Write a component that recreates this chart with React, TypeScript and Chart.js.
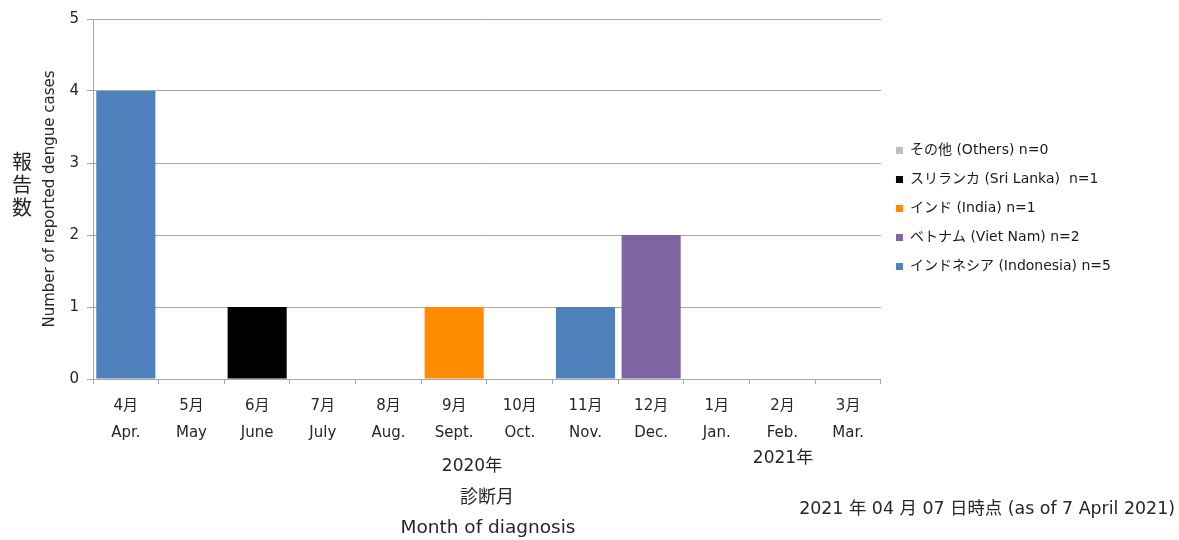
import React, { useEffect, useRef } from 'react';
import { Chart, registerables } from 'chart.js';

Chart.register(...registerables);

const monthsJa = ['4月', '5月', '6月', '7月', '8月', '9月', '10月', '11月', '12月', '1月', '2月', '3月'];
const monthsEn = ['Apr.', 'May', 'June', 'July', 'Aug.', 'Sept.', 'Oct.', 'Nov.', 'Dec.', 'Jan.', 'Feb.', 'Mar.'];

const indonesia = [4, 0, 0, 0, 0, 0, 0, 1, 0, 0, 0, 0];
const vietNam = [0, 0, 0, 0, 0, 0, 0, 0, 2, 0, 0, 0];
const india = [0, 0, 0, 0, 0, 1, 0, 0, 0, 0, 0, 0];
const sriLanka = [0, 0, 1, 0, 0, 0, 0, 0, 0, 0, 0, 0];
const others = [0, 0, 0, 0, 0, 0, 0, 0, 0, 0, 0, 0];

const seriesLabels = [
  'インドネシア (Indonesia) n=5',
  'ベトナム (Viet Nam) n=2',
  'インド (India) n=1',
  'スリランカ (Sri Lanka)  n=1',
  'その他 (Others) n=0',
];
const seriesColors = ['#4f81bd', '#8064a2', '#ff8c00', '#000000', '#bfbfbf'];

const yMin = 0;
const yMax = 5;
const yStep = 1;

const yTitle = 'Number of reported dengue cases';
const yTitleJa = ['報', '告', '数'];
const year2020 = '2020年';
const year2021 = '2021年';
const xTitleJa = '診断月';
const xTitleEn = 'Month of diagnosis';
const asOfNote = '2021 年 04 月 07 日時点 (as of 7 April 2021)';

const FONT = '"DejaVu Sans", "Noto Sans CJK JP", sans-serif';
const TEXT = '#262626';
const GRID = '#a6a6a6';

export default function App() {
  const ref = useRef<HTMLCanvasElement | null>(null);

  useEffect(() => {
    if (!ref.current) return;
    const seriesData = [indonesia, vietNam, india, sriLanka, others];
    const chart = new Chart(ref.current, {
      type: 'bar',
      data: {
        labels: monthsJa.map((m, i) => [m, monthsEn[i]]),
        datasets: seriesData.map((d, i) => ({
          label: seriesLabels[i],
          data: d,
          backgroundColor: seriesColors[i],
          borderWidth: 0,
          barPercentage: 0.9,
          categoryPercentage: 1.0,
        })),
      },
      options: {
        animation: false,
        responsive: false,
        maintainAspectRatio: false,
        layout: { padding: { top: 19, bottom: 0, left: 0, right: 58 } },
        plugins: {
          legend: {
            position: 'right',
            align: 'center',
            fullSize: false,
            reverse: true,
            title: {
              display: true,
              text: ' ',
              padding: { top: 0, bottom: 9 },
              font: { family: FONT, size: 10, lineHeight: 1 },
            },
            labels: {
              boxWidth: 7,
              boxHeight: 7,
              padding: 15,
              color: '#1a1a1a',
              font: { family: FONT, size: 14 },
            },
          },
          tooltip: { enabled: false },
        },
        scales: {
          x: {
            stacked: true,
            offset: true,
            border: { color: GRID },
            grid: {
              offset: true,
              drawOnChartArea: false,
              drawTicks: true,
              tickLength: 5,
              color: GRID,
            },
            ticks: {
              color: TEXT,
              padding: 9,
              maxRotation: 0,
              autoSkip: false,
              font: { family: FONT, size: 15, lineHeight: 1.8 },
            },
            afterFit: (s: any) => {
              s.height = 161;
            },
          },
          y: {
            stacked: true,
            min: yMin,
            max: yMax,
            border: { color: GRID },
            grid: { color: GRID, tickLength: 6 },
            ticks: {
              stepSize: yStep,
              color: TEXT,
              padding: 8,
              font: { family: FONT, size: 15 },
            },
            title: {
              display: true,
              text: yTitle,
              color: TEXT,
              padding: { top: 41, bottom: 0 },
              font: { family: FONT, size: 15 },
            },
            afterFit: (s: any) => {
              s.width = 93;
            },
          },
        },
      },
    });
    return () => chart.destroy();
  }, []);

  const abs = (style: React.CSSProperties): React.CSSProperties => ({
    position: 'absolute',
    whiteSpace: 'nowrap',
    color: TEXT,
    fontFamily: FONT,
    lineHeight: 1,
    ...style,
  });

  return (
    <div style={{ position: 'absolute', left: 0, top: 0, width: 1179, height: 540, background: '#fff' }}>
      <canvas ref={ref} width={1179} height={540} style={{ width: 1179, height: 540, display: 'block' }} />
      <div style={abs({ left: 11, top: 149, width: 22, fontSize: 20, lineHeight: '23px', textAlign: 'center', fontFamily: '"Noto Sans CJK JP", sans-serif' })}>
        {yTitleJa.map((c) => (
          <div key={c}>{c}</div>
        ))}
      </div>
      <div style={abs({ left: 472, top: 465, transform: 'translate(-50%, -50%)', fontSize: 17 })}>{year2020}</div>
      <div style={abs({ left: 783, top: 457, transform: 'translate(-50%, -50%)', fontSize: 17 })}>{year2021}</div>
      <div style={abs({ left: 487, top: 497, transform: 'translate(-50%, -50%)', fontSize: 18 })}>{xTitleJa}</div>
      <div style={abs({ left: 488, top: 527, transform: 'translate(-50%, -50%)', fontSize: 18.5 })}>{xTitleEn}</div>
      <div style={abs({ right: 4, top: 509, transform: 'translateY(-50%)', fontSize: 17.4 })}>{asOfNote}</div>
    </div>
  );
}
